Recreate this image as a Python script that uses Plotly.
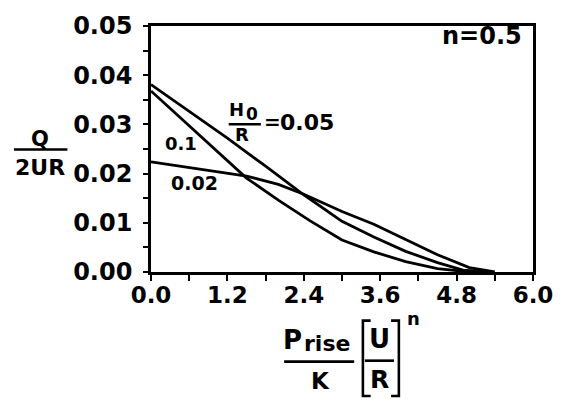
import plotly.graph_objects as go

# ---- data ----
x_h005 = [0.0, 0.6, 1.2, 1.8, 2.4, 3.0, 3.5, 4.0, 4.5, 4.9, 5.3]
y_h005 = [0.0381, 0.0327, 0.0272, 0.0215, 0.0157, 0.0103, 0.0071, 0.0042, 0.0019, 0.0004, 0.0]

x_h01 = [0.0, 0.6, 1.2, 1.5, 2.0, 2.5, 3.0, 3.5, 4.0, 4.5, 5.0]
y_h01 = [0.0368, 0.0297, 0.0226, 0.0191, 0.0146, 0.0104, 0.0065, 0.0041, 0.0021, 0.0007, 0.0]

x_h002 = [0.0, 0.6, 1.2, 1.5, 2.0, 2.4, 3.0, 3.5, 4.0, 4.5, 5.0, 5.4]
y_h002 = [0.0224, 0.0213, 0.0202, 0.0195, 0.0178, 0.0158, 0.0123, 0.0097, 0.0066, 0.0035, 0.0009, 0.0]

x_ticks = [0.0, 1.2, 2.4, 3.6, 4.8, 6.0]
y_ticks = [0.00, 0.01, 0.02, 0.03, 0.04, 0.05]

W, H = 565, 406
L, R, T, B = 151, 21, 14, 134
PW, PH = W - L - R, H - T - B
FONT = "DejaVu Sans"


def px(x):
    return (x - L) / PW


def py(y):
    return (H - B - y) / PH


fig = go.Figure()
for xs, ys, nm in [(x_h005, y_h005, "0.05"), (x_h01, y_h01, "0.1"), (x_h002, y_h002, "0.02")]:
    fig.add_trace(go.Scatter(x=xs, y=ys, mode="lines", name=nm,
                             line=dict(color="black", width=2.8), showlegend=False))

ann = []


def text(t, x, y, size, bold=True):
    ann.append(dict(text=("<b>%s</b>" % t) if bold else t, x=px(x), y=py(y), xref="paper", yref="paper",
                    showarrow=False, xanchor="center", yanchor="middle",
                    font=dict(family=FONT, size=size, color="black")))


# curve labels
text("0.1", 182, 137, 18)
text("0.02", 196, 179, 19)
text("H", 239, 102, 18)
text("0", 255, 106, 17)
text("R", 245, 128, 18)
text("=", 276, 115, 20)
text("0.05", 312, 115, 22)
text("n=0.5", 492, 24, 24)

# y-axis label
text("Q", 37, 133, 21)
text("2UR", 37, 162, 22)

# x-axis label
text("P", 297, 343, 26)
text("rise", 332, 347, 22)
text("K", 325, 386, 23)
text("U", 386, 342, 26)
text("R", 386, 385, 25)
text("n", 421, 321, 18)

shapes = []


def seg(pts, w=2.6):
    d = "M " + " L ".join("%f,%f" % (px(a), py(b)) for a, b in pts)
    shapes.append(dict(type="path", path=d, xref="paper", yref="paper",
                       line=dict(color="black", width=w)))


seg([(10, 143.5), (65, 143.5)])          # Q / 2UR bar
seg([(231, 117), (264, 117)])            # H0 / R bar
seg([(288, 366), (360, 366)])            # Prise / K bar
seg([(371, 365), (401, 365)])            # U / R bar
seg([(377, 323), (369, 323), (369, 402), (377, 402)])   # [
seg([(398, 323), (406, 323), (406, 402), (398, 402)])   # ]

fig.update_layout(
    width=W, height=H,
    margin=dict(l=L, r=R, t=T, b=B, pad=0),
    paper_bgcolor="white", plot_bgcolor="white",
    annotations=ann, shapes=shapes,
    font=dict(family=FONT, color="black"),
)
fig.update_xaxes(range=[0, 6], tickvals=x_ticks, ticktext=["%.1f" % v for v in x_ticks],
                 ticks="outside", ticklen=6, tickwidth=2, tickcolor="black",
                 minor=dict(dtick=0.6, ticks="outside", ticklen=6, tickwidth=2, tickcolor="black"),
                 showline=True, linecolor="black", linewidth=2.6, mirror=True,
                 showgrid=False, zeroline=False, ticklabelstandoff=-5,
                 tickfont=dict(family=FONT, size=23, color="black", weight="bold"))
fig.update_yaxes(range=[0, 0.05], tickvals=y_ticks, ticktext=["%.2f" % v for v in y_ticks],
                 ticks="outside", ticklen=5, tickwidth=2, tickcolor="black",
                 minor=dict(dtick=0.005, ticks="outside", ticklen=5, tickwidth=2, tickcolor="black"),
                 showline=True, linecolor="black", linewidth=2.6, mirror=True,
                 showgrid=False, zeroline=False, ticklabelstandoff=6,
                 tickfont=dict(family=FONT, size=24, color="black", weight="bold"))

fig.write_html("out.html")
